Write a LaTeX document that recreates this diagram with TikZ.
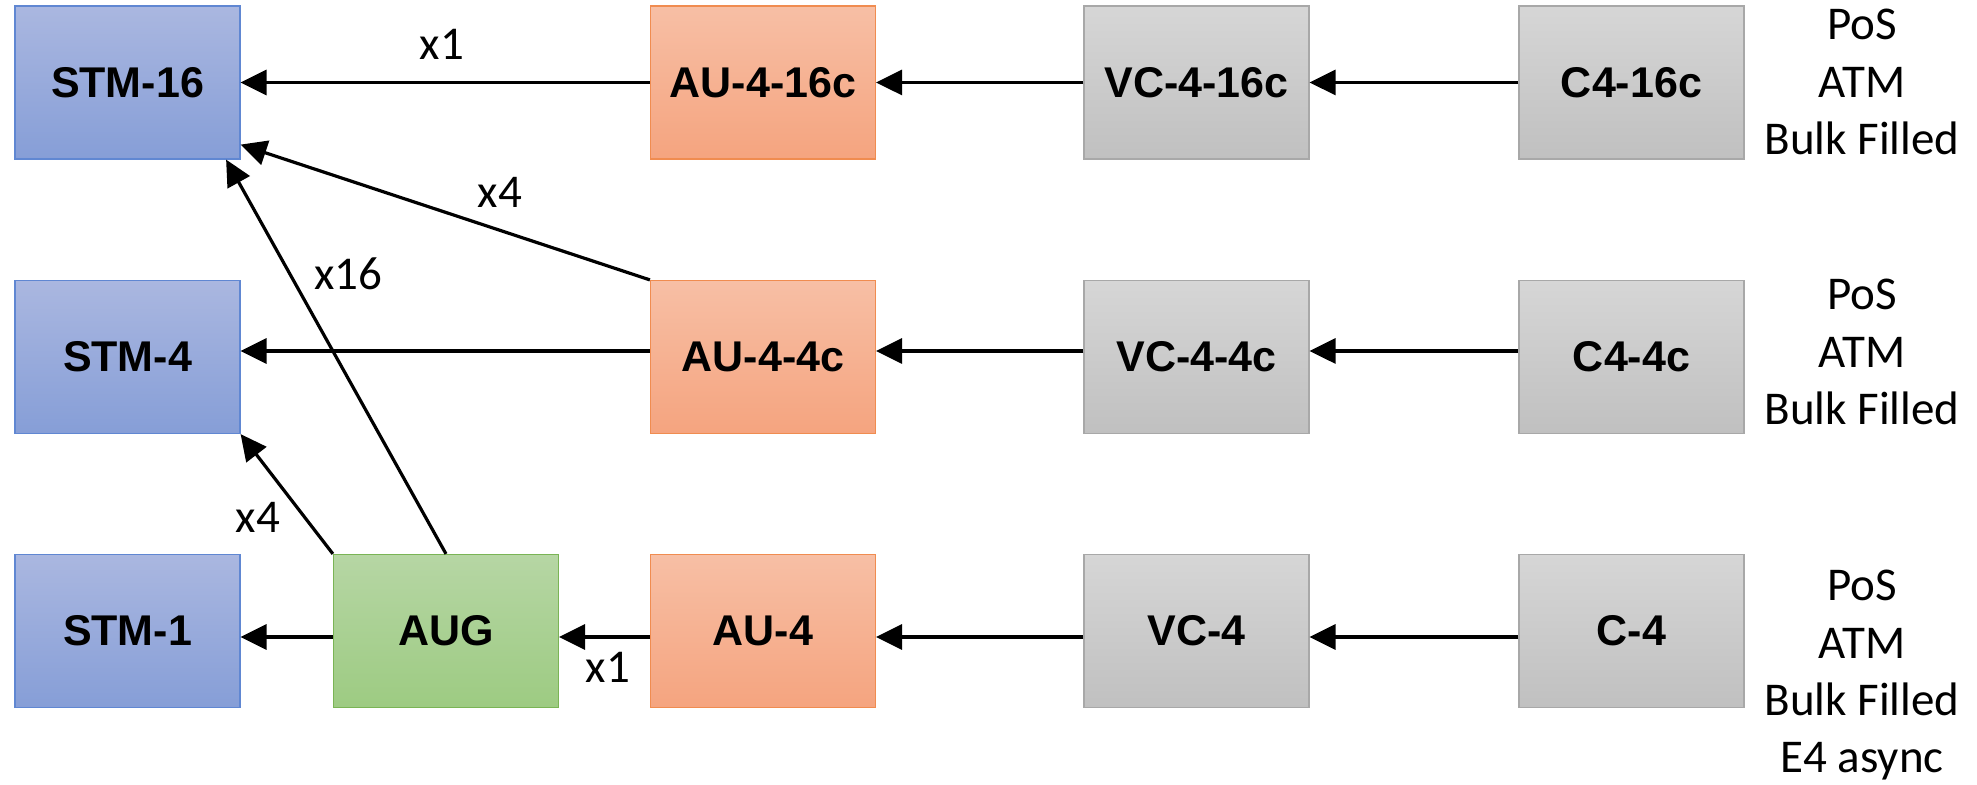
\documentclass[tikz,border=0pt]{standalone}
\usepackage{fontspec}
\setmainfont{Carlito}
\newfontfamily\boxfont{Liberation Sans}
\usetikzlibrary{arrows.meta}
\definecolor{bluetop}{RGB}{170,183,224}
\definecolor{bluebot}{RGB}{134,158,215}
\definecolor{blueline}{RGB}{96,135,210}
\definecolor{orangetop}{RGB}{247,191,165}
\definecolor{orangebot}{RGB}{245,164,127}
\definecolor{orangeline}{RGB}{240,140,80}
\definecolor{graytop}{RGB}{214,214,214}
\definecolor{graybot}{RGB}{192,192,192}
\definecolor{grayline}{RGB}{168,168,168}
\definecolor{greentop}{RGB}{182,214,164}
\definecolor{greenbot}{RGB}{157,203,130}
\definecolor{greenline}{RGB}{122,180,85}
\begin{document}
\begin{tikzpicture}[x=0.5pt,y=-0.5pt,
  box/.style={draw, line width=0.6pt, minimum width=112.5pt, minimum height=76.5pt,
    inner sep=0pt, font=\boxfont\bfseries\fontsize{21.5}{25}\selectfont},
  bluebox/.style={box, draw=blueline, top color=bluetop, bottom color=bluebot},
  orangebox/.style={box, draw=orangeline, top color=orangetop, bottom color=orangebot},
  graybox/.style={box, draw=grayline, top color=graytop, bottom color=graybot},
  greenbox/.style={box, draw=greenline, top color=greentop, bottom color=greenbot},
  arr/.style={line width=1.6pt, -{Triangle[length=13pt,width=12.5pt]}},
  lbl/.style={font=\fontsize{23.5}{28}\selectfont, anchor=base, inner sep=0pt},
  note/.style={font=\fontsize{23.5}{28.75}\selectfont, align=center, anchor=base, inner sep=0pt}]
\useasboundingbox (0,0) rectangle (1977,785);
% row 1
\node[bluebox]   (stm16) at (127.5,82.5) {STM-16};
\node[orangebox] (au416) at (763,82.5)   {AU-4-16c};
\node[graybox]   (vc416) at (1196.5,82.5) {VC-4-16c};
\node[graybox]   (c416)  at (1631.5,82.5) {C4-16c};
% row 2
\node[bluebox]   (stm4)  at (127.5,357) {STM-4};
\node[orangebox] (au44)  at (763,357)   {AU-4-4c};
\node[graybox]   (vc44)  at (1196.5,357) {VC-4-4c};
\node[graybox]   (c44)   at (1631.5,357) {C4-4c};
% row 3
\node[bluebox]   (stm1)  at (127.5,631) {STM-1};
\node[greenbox]  (aug)   at (446,631)   {AUG};
\node[orangebox] (au4)   at (763,631)   {AU-4};
\node[graybox]   (vc4)   at (1196.5,631) {VC-4};
\node[graybox]   (c4)    at (1631.5,631) {C-4};
% notes (anchor base = last line)
\node[note] (n1) at (1862,155) {PoS\\ATM\\Bulk Filled};
\node[note] (n2) at (1862,425) {PoS\\ATM\\Bulk Filled};
\node[note] (n3) at (1862,773) {PoS\\ATM\\Bulk Filled\\E4 async};
% row 1 arrows
\draw[arr] (c416.west) -- (vc416.east);
\draw[arr] (vc416.west) -- (au416.east);
\draw[arr] (au416.west) -- (stm16.east);
% row 2 arrows
\draw[arr] ([yshift=3pt]c44.west) -- ([yshift=3pt]vc44.east);
\draw[arr] ([yshift=3pt]vc44.west) -- ([yshift=3pt]au44.east);
\draw[arr] ([yshift=3pt]au44.west) -- ([yshift=3pt]stm4.east);
% row 3 arrows
\draw[arr] ([yshift=-3pt]c4.west) -- ([yshift=-3pt]vc4.east);
\draw[arr] ([yshift=-3pt]vc4.west) -- ([yshift=-3pt]au4.east);
\draw[arr] ([yshift=-3pt]au4.west) -- ([yshift=-3pt]aug.east);
\draw[arr] ([yshift=-3pt]aug.west) -- ([yshift=-3pt]stm1.east);
% diagonal arrows
\draw[arr] (au44.north west) -- ([yshift=7.5pt]stm16.south east);
\draw[arr] (aug.north) -- ([xshift=-7.25pt]stm16.south east);
\draw[arr] (aug.north west) -- (stm4.south east);
% labels
\node[lbl] (l1)  at (442,60)  {x1};
\node[lbl] (l2)  at (500,208) {x4};
\node[lbl] (l3)  at (348,290) {x16};
\node[lbl] (l4)  at (258,533) {x4};
\node[lbl] (l5)  at (608,683) {x1};
\end{tikzpicture}
\end{document}
